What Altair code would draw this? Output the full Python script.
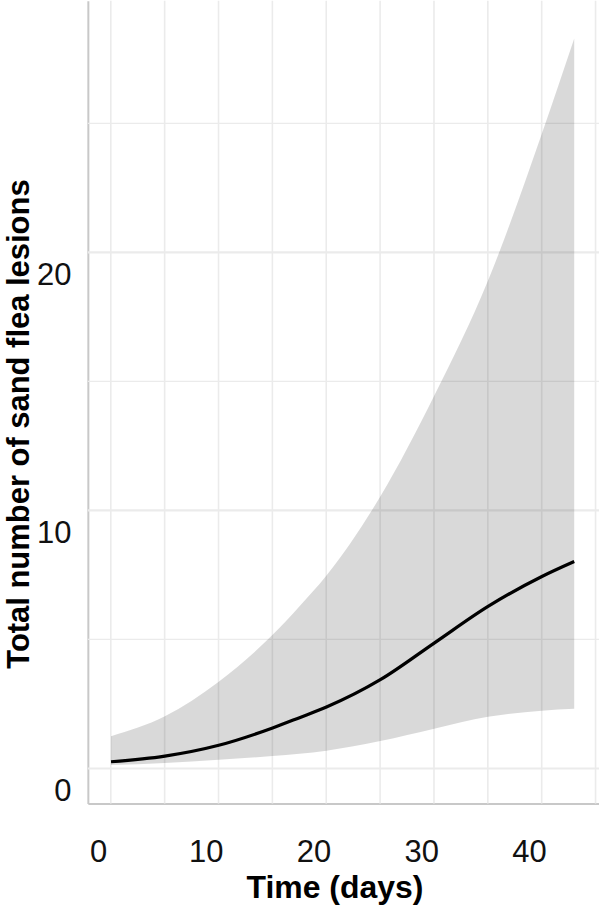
import altair as alt
import pandas as pd

# Values
days = [1.2, 6.2, 11.2, 16.2, 18.7, 21.2, 26.2, 31.2, 36.2, 41.2, 44.2]
fit = [1.15, 1.37, 1.79, 2.46, 2.86, 3.27, 4.33, 5.75, 7.17, 8.33, 8.91]
upper = [2.14, 2.91, 4.25, 6.07, 7.18, 8.37, 11.43, 15.33, 19.8, 25.5, 29.18]
lower = [1.02, 1.10, 1.23, 1.37, 1.46, 1.58, 1.95, 2.43, 2.89, 3.13, 3.20]

x_ticks = [0, 10, 20, 30, 40]
y_ticks = [0, 10, 20]
x_grid = [1.18, 6.18, 11.18, 16.18, 21.18, 26.18, 31.18, 36.18, 41.18, 46.18]
y_grid_major = [0.89, 10.89, 20.89]
y_grid_minor = [5.89, 15.89, 25.89]

df = pd.DataFrame({"day": days, "fit": fit, "upper": upper, "lower": lower})
df_xg = pd.DataFrame({"g": x_grid})
df_yg = pd.DataFrame({"g": y_grid_major + y_grid_minor,
                      "kind": ["major"] * len(y_grid_major) + ["minor"] * len(y_grid_minor)})

FONT = "Liberation Sans"
xs = alt.Scale(domain=[-0.95, 46.5], nice=False, zero=False)
ys = alt.Scale(domain=[-0.464, 30.64], nice=False, zero=False)

xaxis = alt.Axis(
    values=x_ticks, grid=False, ticks=False, tickSize=0,
    domainColor="#c8c8c8", domainWidth=2,
    labelFont=FONT, labelFontSize=31, labelColor="#111111",
    labelPadding=58, labelBaseline="alphabetic", labelFlush=False, labelOverlap=False,
    title="Time (days)", titleFont=FONT, titleFontSize=32, titleFontWeight="bold",
    titleColor="#000000", titleX=247, titleY=94, titleAlign="center",
    titleBaseline="alphabetic",
)
yaxis = alt.Axis(
    values=y_ticks, grid=False, ticks=False, tickSize=0,
    domainColor="#c8c8c8", domainWidth=2,
    labelFont=FONT, labelFontSize=31, labelColor="#111111",
    labelPadding=17, labelAlign="right", labelBaseline="middle",
    labelFlush=False, labelOverlap=False,
    title="Total number of sand flea lesions", titleFont=FONT, titleFontSize=31,
    titleFontWeight="bold", titleColor="#000000", titleAngle=270,
    titleX=-59, titleY=423.5, titleAlign="center", titleBaseline="alphabetic",
)

vgrid = alt.Chart(df_xg).mark_rule(color="#ebebeb", strokeWidth=1.6).encode(
    x=alt.X("g:Q", scale=xs, axis=xaxis)
)
hgrid = alt.Chart(df_yg).mark_rule(color="#ebebeb").encode(
    y=alt.Y("g:Q", scale=ys, axis=yaxis),
    strokeWidth=alt.StrokeWidth("kind:N", scale=alt.Scale(domain=["major", "minor"], range=[2.2, 1.3]), legend=None),
)
band = alt.Chart(df).mark_area(color="#000000", opacity=0.15, interpolate="monotone").encode(
    x=alt.X("day:Q", scale=xs, axis=xaxis),
    y=alt.Y("lower:Q", scale=ys, axis=yaxis),
    y2="upper:Q",
)
line = alt.Chart(df).mark_line(color="#000000", strokeWidth=3.2, interpolate="monotone").encode(
    x=alt.X("day:Q", scale=xs, axis=xaxis),
    y=alt.Y("fit:Q", scale=ys, axis=yaxis),
)

chart = alt.layer(vgrid, hgrid, band, line).properties(
    width=512, height=804,
    autosize=alt.AutoSizeParams(type="none"),
    padding={"left": 88, "top": 0, "right": 0, "bottom": 106},
    background="#ffffff",
).configure_view(stroke=None)

chart.save("out.html", embed_options={"renderer": "svg", "actions": False})
